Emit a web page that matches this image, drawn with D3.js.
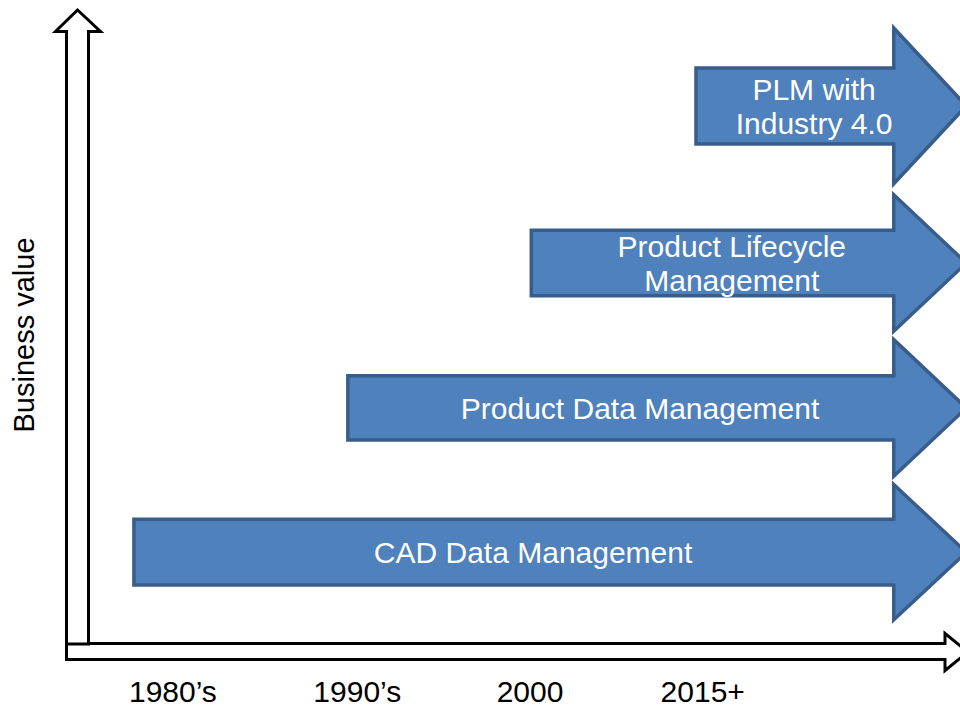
<!DOCTYPE html>
<html>
<head>
<meta charset="utf-8">
<script src="https://cdn.jsdelivr.net/npm/d3@7"></script>
<style>
  body { margin: 0; background: #fff; }
  svg { display: block; overflow: hidden; }
  text { font-family: "Liberation Sans", Arial, sans-serif; }
</style>
</head>
<body>
<div id="chart"></div>
<script>
// Stages of data management (bottom to top)
const stages = ["CAD Data Management", "Product Data Management", "Product Lifecycle\nManagement", "PLM with\nIndustry 4.0"];
const stageStart = [7.7, 31.6, 52.1, 70.5];     // timeline position where the stage begins
const stageValue = [15.5, 37.9, 60.4, 84.8];    // business value (arrow centre)
const bodyHalf = [5.1, 5.0, 5.1, 5.9];          // half height of arrow body
const headHalf = [10.5, 10.6, 10.6, 12.1];      // half height of arrow head
const headStart = 92.6;
const headTip = 100.7;

// Timeline tick labels
const eras = ["1980\u2019s", "1990\u2019s", "2000", "2015+"];
const eraPos = [12.0, 32.6, 51.9, 71.2];

const width = 960, height = 709;
const font = "'Liberation Sans', Arial, sans-serif";

const svg = d3.select("#chart")
  .append("svg")
  .attr("width", width)
  .attr("height", height);

const x = d3.scaleLinear().domain([0, 100]).range([65, 960]);
const y = d3.scaleLinear().domain([0, 100]).range([652, 8]);

// Axis block arrows
const axisLine = d3.line();
const xa = y(0);
svg.append("path")
  .attr("d", axisLine([
    [66.5, xa - 8.5], [945, xa - 8.5], [945, xa - 18.5], [968, xa],
    [945, xa + 18.5], [945, xa + 7.5], [66.5, xa + 7.5]
  ]) + "Z")
  .attr("fill", "#fff")
  .attr("stroke", "#000")
  .attr("stroke-width", 3);

svg.append("path")
  .attr("d", axisLine([
    [66.5, xa - 8], [66.5, 31.5], [55.5, 31.5], [77.5, y(100) + 2],
    [100.5, 31.5], [88.5, 31.5], [88.5, xa - 8]
  ]) + "Z")
  .attr("fill", "#fff")
  .attr("stroke", "#000")
  .attr("stroke-width", 3);

// Stage arrows
const arrows = stages.map((name, i) => ({
  name, start: stageStart[i], value: stageValue[i], body: bodyHalf[i], head: headHalf[i]
}));

const arrowPath = d => {
  const yc = y(d.value);
  const b = y(0) - y(d.body);
  const h = y(0) - y(d.head);
  const x0 = x(d.start), xh = x(headStart), xt = x(headTip);
  return axisLine([
    [x0, yc - b], [xh, yc - b], [xh, yc - h], [xt, yc],
    [xh, yc + h], [xh, yc + b], [x0, yc + b]
  ]) + "Z";
};

const g = svg.append("g");

g.selectAll("path.stage")
  .data(arrows)
  .enter()
  .append("path")
  .attr("class", "stage")
  .attr("d", arrowPath)
  .attr("fill", "#4F81BD")
  .attr("stroke", "#385D8A")
  .attr("stroke-width", 3.5)
  .attr("stroke-linejoin", "miter");

const lineH = 34;
g.selectAll("text.stage-label")
  .data(arrows)
  .enter()
  .append("text")
  .attr("class", "stage-label")
  .attr("text-anchor", "middle")
  .attr("fill", "#fff")
  .attr("font-size", 30)
  .style("font-family", font)
  .each(function(d) {
    const lines = d.name.split("\n");
    const cx = (x(d.start) + x(headTip)) / 2 - 17;
    const base = y(d.value) + 11 - (lines.length - 1) * lineH / 2;
    d3.select(this).selectAll("tspan")
      .data(lines)
      .enter()
      .append("tspan")
      .attr("x", cx)
      .attr("y", (l, j) => base + j * lineH)
      .text(l => l);
  });

// Timeline labels
const axis = svg.append("g")
  .attr("transform", "translate(0,702)")
  .call(d3.axisBottom(x)
    .tickValues(eraPos)
    .tickSize(0)
    .tickPadding(0)
    .tickFormat((v, i) => eras[i]));
axis.select(".domain").remove();
axis.selectAll("text")
  .attr("dy", 0)
  .attr("y", 0)
  .attr("fill", "#000")
  .attr("font-size", 30)
  .style("font-family", font);

// Y label
svg.append("text")
  .attr("transform", "rotate(-90)")
  .attr("x", -335)
  .attr("y", 34)
  .attr("text-anchor", "middle")
  .attr("font-size", 29)
  .attr("fill", "#000")
  .style("font-family", font)
  .text("Business value");
</script>
</body>
</html>
